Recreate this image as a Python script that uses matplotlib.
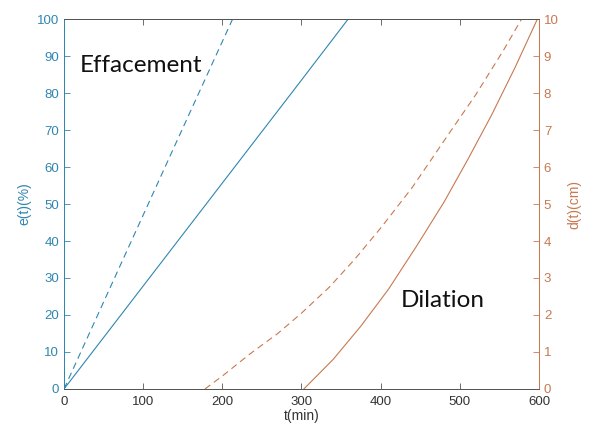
import matplotlib
matplotlib.use("Agg")
import matplotlib.pyplot as plt

# Effacement (%) - left axis
t_eff_fast = [0, 50, 100, 150, 213]
e_eff_fast = [0, 23.5, 47, 70.5, 100]
t_eff_slow = [0, 60, 120, 180, 240, 300, 359]
e_eff_slow = [0, 16.7, 33.4, 50.1, 66.8, 83.5, 100]

# Dilation (cm) - right axis
t_dil_fast = [178, 200, 235, 270, 300, 335, 367, 400, 440, 483, 520, 555, 578]
d_dil_fast = [0, 0.35, 0.95, 1.5, 2.05, 2.75, 3.5, 4.35, 5.45, 6.8, 7.95, 9.15, 10]
t_dil_slow = [303, 340, 375, 410, 445, 480, 510, 540, 570, 598]
d_dil_slow = [0, 0.8, 1.7, 2.7, 3.85, 5.05, 6.2, 7.4, 8.7, 10]

blue = "#2f86b0"
orange = "#c8784f"
gray = "#555555"

plt.rcParams["font.family"] = ["Liberation Sans", "DejaVu Sans"]

fig = plt.figure(figsize=(5.91, 4.34), dpi=100)
ax = fig.add_axes([0.1083, 0.1037, 0.8037, 0.8525])
ax2 = ax.twinx()

ax.plot(t_eff_fast, e_eff_fast, color=blue, lw=0.8, dashes=(6, 4))
ax.plot(t_eff_slow, e_eff_slow, color=blue, lw=0.8)
ax2.plot(t_dil_fast, d_dil_fast, color=orange, lw=0.8, dashes=(6, 4))
ax2.plot(t_dil_slow, d_dil_slow, color=orange, lw=0.8)

ax.set_xlim(0, 600)
ax.set_ylim(0, 100)
ax2.set_ylim(0, 10)
ax.set_xticks(range(0, 601, 100))
ax.set_yticks(range(0, 101, 10))
ax2.set_yticks(range(0, 11, 1))

ax.tick_params(axis="x", direction="in", top=True, colors=gray, labelcolor="#333333",
               labelsize=9.5, length=4, width=0.6, pad=5)
ax.tick_params(axis="y", direction="in", colors=blue, labelsize=9.5, length=4, width=0.6)
ax2.tick_params(axis="y", direction="in", colors=orange, labelsize=9.5, length=4, width=0.6)

for a in (ax, ax2):
    a.spines["top"].set_color(gray)
    a.spines["bottom"].set_color(gray)
    a.spines["left"].set_color(blue)
    a.spines["right"].set_color(orange)
    for s in a.spines.values():
        s.set_linewidth(0.7)

ax.set_xlabel("t(min)", fontsize=10, color="#333333", labelpad=1)
ax.set_ylabel("e(t)(%)", fontsize=10, color=blue, labelpad=4)
ax2.set_ylabel("d(t)(cm)", fontsize=10, color=orange, labelpad=6)

ax.text(20, 87.5, "Effacement", fontsize=17.5, family=["Lato", "DejaVu Sans"],
        color="#111111", va="center", ha="left")
ax2.text(425, 2.4, "Dilation", fontsize=17.5, family=["Lato", "DejaVu Sans"],
         color="#111111", va="center", ha="left")

fig.savefig("out.png", dpi=100)
